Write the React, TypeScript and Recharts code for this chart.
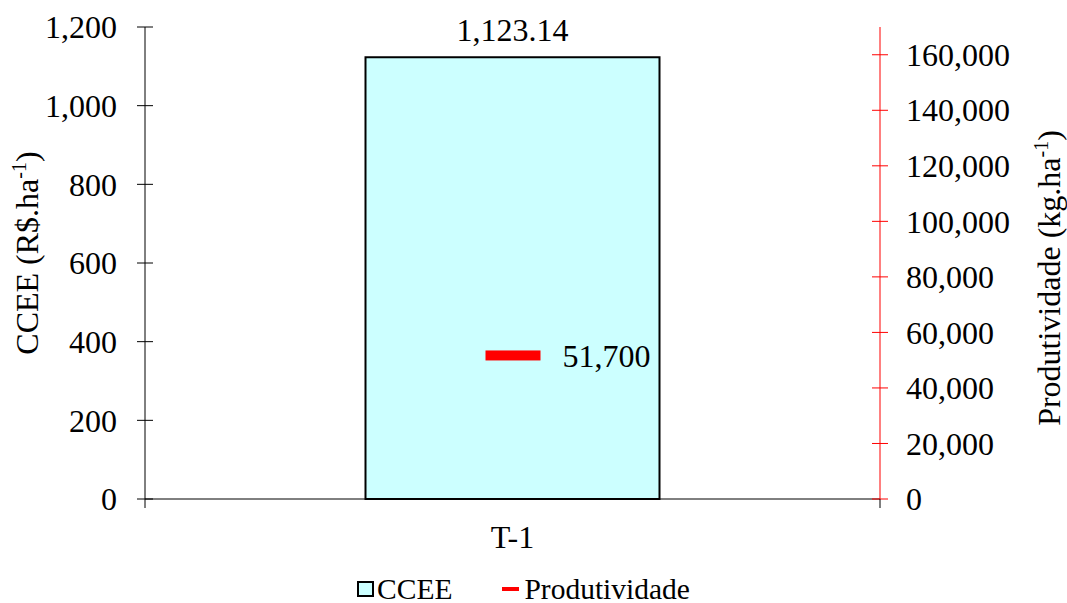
import React from "react";
import { ComposedChart, Bar, Line, XAxis, YAxis, Legend, LabelList } from "recharts";

const categories = ["T-1"];
const cceeValues = [1123.14];
const produtividadeValues = [51700];
const leftTicks = [0, 200, 400, 600, 800, 1000, 1200];
const rightTicks = [0, 20000, 40000, 60000, 80000, 100000, 120000, 140000, 160000];

const data = categories.map((name, i) => ({
  name,
  ccee: cceeValues[i],
  produtividade: produtividadeValues[i],
}));

const FONT = '"Liberation Serif", "Times New Roman", Times, serif';
const FS = 32;

const fmtInt = (v: number) => v.toLocaleString("en-US");
const fmtDec = (v: number) =>
  v.toLocaleString("en-US", { minimumFractionDigits: 2, maximumFractionDigits: 2 });

// tick with a line crossing the axis (Excel "cross" tick marks)
function CrossTick(props: any) {
  const { x, y, payload, textAnchor, side, color, size, gap } = props;
  const axisX = side === "left" ? x + gap + size : x - gap - size;
  return (
    <g>
      <line x1={axisX - size} x2={axisX + size} y1={y} y2={y} stroke={color} />
      {payload.value === 0 && (
        <line x1={axisX} x2={axisX} y1={y} y2={y + 9} stroke="#000" />
      )}
      <text x={x} y={y} dy="0.35em" textAnchor={textAnchor} fontSize={FS} fill="#000">
        {fmtInt(payload.value)}
      </text>
    </g>
  );
}

function AxisTitle(props: any) {
  const { viewBox, side } = props;
  const cy = viewBox.y + viewBox.height / 2;
  if (side === "left") {
    const cx = viewBox.x + 27;
    return (
      <text x={cx} y={cy - 10} dy="0.35em" textAnchor="middle" fontSize={FS} fill="#000"
        transform={`rotate(-90 ${cx} ${cy - 10})`}>
        CCEE (R$.ha<tspan dy={-12} fontSize={20}>-1</tspan><tspan dy={12}>)</tspan>
      </text>
    );
  }
  const cx = viewBox.x + 169;
  return (
    <text x={cx} y={cy + 15} dy="0.35em" textAnchor="middle" fontSize={FS} fill="#000"
      transform={`rotate(-90 ${cx} ${cy + 15})`}>
      Produtividade (kg.ha<tspan dy={-12} fontSize={20}>-1</tspan><tspan dy={12}>)</tspan>
    </text>
  );
}

function DashDot(props: any) {
  const { cx, cy } = props;
  if (cx == null || cy == null) return null;
  return <rect x={cx - 27} y={cy - 5} width={55} height={10} fill="#ff0000" />;
}

function LegendContent(props: any) {
  const items = props.payload || [];
  return (
    <div style={{ display: "flex", justifyContent: "center", alignItems: "center", height: 40, paddingTop: 12, boxSizing: "border-box", marginLeft: -20, lineHeight: "30px" }}>
      {items.map((it: any) => (
        <div key={it.value} style={{ display: "flex", alignItems: "center", marginRight: it.value === "CCEE" ? 50 : 0, fontSize: 29.5, color: "#000" }}>
          {it.value === "CCEE" ? (
            <span style={{ display: "inline-block", width: 13, height: 12, border: "2px solid #000", background: "#ccffff", marginRight: 3 }} />
          ) : (
            <span style={{ display: "inline-block", width: 17, height: 4, background: "#ff0000", marginRight: 5 }} />
          )}
          <span>{it.value}</span>
        </div>
      ))}
    </div>
  );
}

export default function App() {
  return (
    <div style={{ position: "absolute", left: 0, top: 0, width: 1067, height: 603, background: "#fff", fontFamily: FONT }}>
      <ComposedChart
        width={1067}
        height={603}
        data={data}
        margin={{ top: 27, right: 0, bottom: 0, left: 0 }}
        barCategoryGap="30%"
      >
        <XAxis
          dataKey="name"
          axisLine={{ stroke: "#000" }}
          tickLine={false}
          height={64}
          tickMargin={20}
          tick={{ fontSize: FS, fill: "#000" }}
        />
        <YAxis
          yAxisId="left"
          orientation="left"
          width={145}
          domain={[0, 1200]}
          ticks={leftTicks}
          interval={0}
          axisLine={{ stroke: "#000" }}
          tickLine={false}
          tickSize={8}
          tickMargin={20}
          tick={<CrossTick side="left" color="#000" size={8} gap={20} />}
          label={<AxisTitle side="left" />}
        />
        <YAxis
          yAxisId="right"
          orientation="right"
          width={187}
          domain={[0, 170000]}
          ticks={rightTicks}
          interval={0}
          axisLine={{ stroke: "#ff0000" }}
          tickLine={false}
          tickSize={8}
          tickMargin={18}
          tick={<CrossTick side="right" color="#ff0000" size={8} gap={18} />}
          label={<AxisTitle side="right" />}
        />
        <Legend
          verticalAlign="bottom"
          content={<LegendContent />}
          wrapperStyle={{ height: 40 }}
        />
        <Bar
          yAxisId="left"
          dataKey="ccee"
          name="CCEE"
          fill="#ccffff"
          stroke="#000"
          strokeWidth={2}
          legendType="rect"
          isAnimationActive={false}
        >
          <LabelList dataKey="ccee" position="top" offset={16} formatter={fmtDec as any} fill="#000" fontSize={FS} />
        </Bar>
        <Line
          yAxisId="right"
          dataKey="produtividade"
          name="Produtividade"
          stroke="none"
          legendType="line"
          dot={<DashDot />}
          activeDot={false}
          isAnimationActive={false}
        >
          <LabelList dataKey="produtividade" position="right" offset={50} formatter={fmtInt as any} fill="#000" fontSize={FS} />
        </Line>
      </ComposedChart>
    </div>
  );
}
